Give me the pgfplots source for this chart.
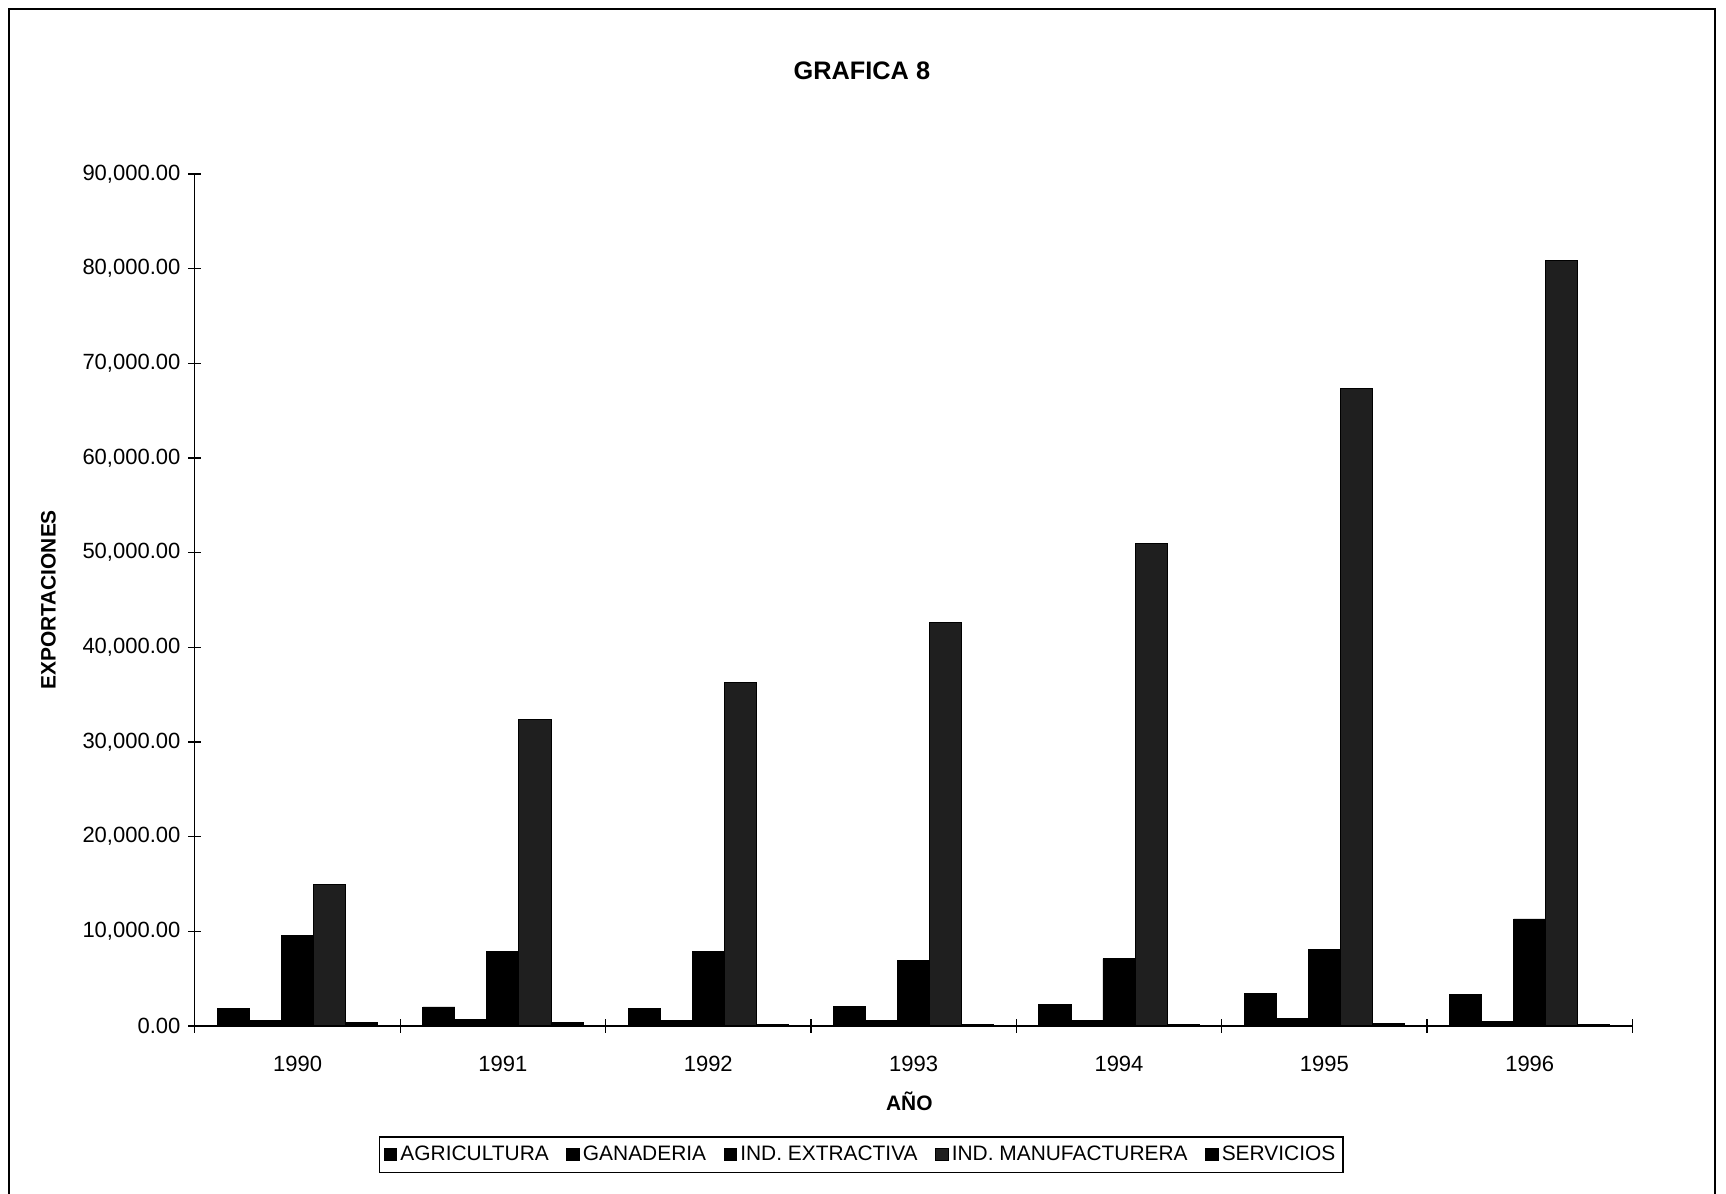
\documentclass[border=0pt]{standalone}
\usepackage{fontspec}
\setmainfont{Liberation Sans}
\usepackage{pgfplots}
\pgfplotsset{compat=1.18}

\pgfplotsset{
  sqlegend/.style={legend image code/.code={
      \draw[##1,line width=0.4pt] (0pt,-2.8pt) rectangle (5.6pt,2.8pt);}},
}

\begin{document}
\begin{tikzpicture}
\useasboundingbox (-88.5pt,-76pt) rectangle (695.5pt,466pt);
\draw[line width=0.9pt] (-84.5pt,-90pt) -- (-84.5pt,462pt) -- (690.5pt,462pt) -- (690.5pt,-90pt);
\node[font=\fontsize{11.5}{13}\selectfont\bfseries] at (303pt,434pt) {GRAFICA 8};
\begin{axis}[
  scale only axis, width=653pt, height=387pt,
  xmin=-0.5, xmax=6.5, ymin=0, ymax=90000,
  axis lines=left, axis line style={-, line width=0.6pt},
  ybar, bar width=0.156,
  xtick={0,...,6},
  xticklabels={1990,1991,1992,1993,1994,1995,1996},
  major x tick style={draw=none},
  minor xtick={-0.5,0.5,...,6.5},
  ytick={0,10000,...,90000},
  tick align=center,
  major tick length=6pt, minor tick length=6pt,
  tick style={line width=0.6pt, black},
  scaled y ticks=false,
  yticklabel style={/pgf/number format/.cd, fixed, fixed zerofill, precision=2,
    1000 sep={,}, assume math mode=true},
  ticklabel style={font=\fontsize{10}{12}\selectfont},
  xticklabel style={yshift=-7pt},
  xlabel={AÑO},
  xlabel style={at={(axis description cs:0.497,-0.0879)}, anchor=center,
    font=\fontsize{9.5}{11}\selectfont\bfseries},
  ylabel={EXPORTACIONES},
  ylabel style={at={(axis description cs:-0.1019,0.5)}, anchor=center,
    font=\fontsize{9.5}{11}\selectfont\bfseries},
  legend columns=-1,
  legend style={at={(axis description cs:0.4636,-0.1512)}, anchor=center,
    draw=black, line width=0.6pt, font=\fontsize{9.5}{11}\selectfont,
    inner sep=2pt,
    nodes={inner xsep=1.5pt},
    /tikz/every even column/.append style={column sep=6.5pt}},
]
\addplot[fill=black, draw=black, bar shift=-0.312, sqlegend] coordinates
  {(0,1800) (1,2000) (2,1800) (3,2100) (4,2300) (5,3400) (6,3300)};
\addlegendentry{AGRICULTURA}
\addplot[fill=black, draw=black, bar shift=-0.156, sqlegend] coordinates
  {(0,600) (1,700) (2,600) (3,600) (4,600) (5,800) (6,500)};
\addlegendentry{GANADERIA}
\addplot[fill=black, draw=black, bar shift=0, sqlegend] coordinates
  {(0,9600) (1,7900) (2,7900) (3,6900) (4,7100) (5,8050) (6,11300)};
\addlegendentry{IND. EXTRACTIVA}
\addplot[fill=black!88, draw=black, bar shift=0.156, sqlegend] coordinates
  {(0,14900) (1,32400) (2,36300) (3,42600) (4,51000) (5,67300) (6,80900)};
\addlegendentry{IND. MANUFACTURERA}
\addplot[fill=black, draw=black, bar shift=0.312, sqlegend] coordinates
  {(0,350) (1,350) (2,200) (3,200) (4,150) (5,300) (6,200)};
\addlegendentry{SERVICIOS}
\end{axis}
\end{tikzpicture}
\end{document}
